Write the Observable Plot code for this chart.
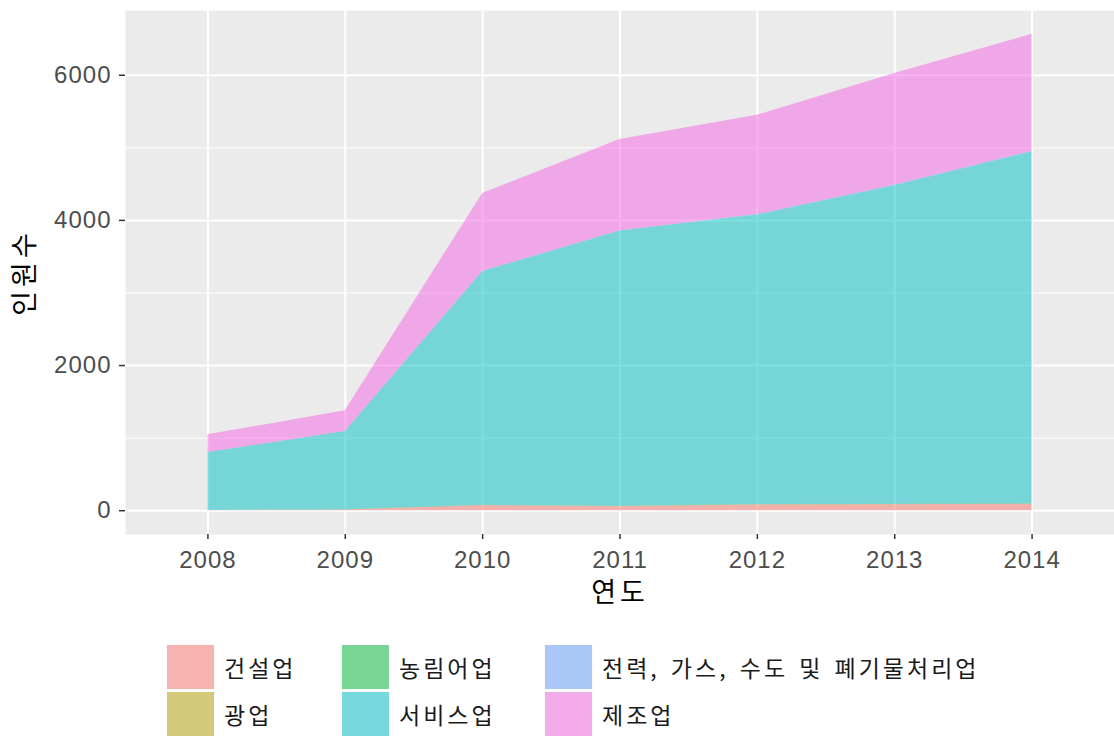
<!DOCTYPE html>
<html>
<head>
<meta charset="utf-8">
<script src="https://cdn.jsdelivr.net/npm/d3@7"></script>
<script src="https://cdn.jsdelivr.net/npm/@observablehq/plot@0.6"></script>
<style>
  body { margin: 0; background: #fff; font-family: "Liberation Sans", Arial, "Noto Sans CJK KR", sans-serif; }
  #chart svg { display: block; }
  .legend { display: grid; grid-auto-flow: column; grid-template-rows: 47px 47px;
            grid-template-columns: 175px 203px auto; padding-left: 166px; margin-top: 28px; }
  .item { display: flex; align-items: center; height: 47px; }
  .key { width: 49px; height: 46px; box-sizing: border-box; border: 1px solid #fafafa; margin-right: 9px; }
  .lab { font-family: "Noto Sans CJK KR", sans-serif; font-size: 23px; letter-spacing: 3px; word-spacing: 3px; color: #1a1a1a; }
</style>
</head>
<body>
<div id="chart"></div>
<script>
const years = [2008, 2009, 2010, 2011, 2012, 2013, 2014];
const industries = ["건설업", "광업", "농림어업", "서비스업", "전력, 가스, 수도 및 폐기물처리업", "제조업"];
const colors = ["#F8766D", "#B79F00", "#00BA38", "#00BFC4", "#619CFF", "#F564E3"];
const keyColors = ["#F5B4AF", "#D4C879", "#79D695", "#79D8DB", "#AAC7F8", "#F3ABEA"];

const construction = [2, 10, 70, 55, 78, 82, 88];
const mining       = [0, 1, 2, 2, 3, 3, 3];
const agriculture  = [1, 1, 3, 3, 4, 5, 4];
const services     = [799, 1079, 3218, 3793, 3988, 4387, 4849];
const utilities    = [0, 0, 5, 5, 8, 10, 10];
const manufacturing= [244, 285, 1074, 1257, 1368, 1536, 1610];

const yTicks = [0, 2000, 4000, 6000];
const yMinor = [1000, 3000, 5000];
const xTitle = "연도";
const yTitle = "인원수";

const series = [construction, mining, agriculture, services, utilities, manufacturing];
const data = [];
series.forEach((vals, i) => vals.forEach((v, j) => data.push({year: years[j], industry: industries[i], value: v})));

const plot = Plot.plot({
  width: 1114,
  height: 615,
  marginLeft: 125,
  marginRight: 0,
  marginTop: 10,
  marginBottom: 81,
  style: {fontFamily: "'Liberation Sans', Arial, sans-serif", background: "white"},
  x: {domain: [2007.4, 2014.6]},
  y: {domain: [-328, 6892]},
  color: {domain: industries, range: colors},
  marks: [
    Plot.frame({fill: "#EBEBEB", stroke: null}),
    Plot.ruleY(yMinor, {stroke: "white", strokeWidth: 1}),
    Plot.ruleY(yTicks, {stroke: "white", strokeWidth: 2}),
    Plot.ruleX(years, {stroke: "white", strokeWidth: 2}),
    Plot.areaY(data, {x: "year", y: "value", fill: "industry", z: "industry", fillOpacity: 0.5, order: industries}),
    Plot.axisY({ticks: yTicks, tickFormat: d => String(d), tickSize: 6, tickPadding: 8, fontSize: 24, color: "#4D4D4D", stroke: "#333", strokeWidth: 1.5, label: null}),
    Plot.axisX({ticks: years, tickFormat: d => String(d), tickSize: 5, tickPadding: 11, fontSize: 24, color: "#4D4D4D", stroke: "#333", strokeWidth: 1.5, label: null}),
    Plot.text([xTitle], {frameAnchor: "bottom", textAnchor: "middle", lineAnchor: "middle", dy: 59, fontSize: 27, fill: "black", fontFamily: "'Noto Sans CJK KR', sans-serif", text: d => d}),
    Plot.text([yTitle], {frameAnchor: "left", textAnchor: "middle", lineAnchor: "middle", dx: -100, rotate: -90, fontSize: 27, fill: "black", fontFamily: "'Noto Sans CJK KR', sans-serif", text: d => d})
  ]
});
plot.querySelectorAll("text").forEach(t => {
  if (/^\d+$/.test(t.textContent)) t.style.letterSpacing = "1px";
  if (t.textContent === xTitle || t.textContent === yTitle) t.style.letterSpacing = "4px";
});
document.getElementById("chart").appendChild(plot);

const legend = document.createElement("div");
legend.className = "legend";
industries.forEach((name, i) => {
  const item = document.createElement("div");
  item.className = "item";
  const key = document.createElement("div");
  key.className = "key";
  key.style.background = keyColors[i];
  const lab = document.createElement("span");
  lab.className = "lab";
  lab.textContent = name;
  item.appendChild(key);
  item.appendChild(lab);
  legend.appendChild(item);
});
document.body.appendChild(legend);
</script>
</body>
</html>
